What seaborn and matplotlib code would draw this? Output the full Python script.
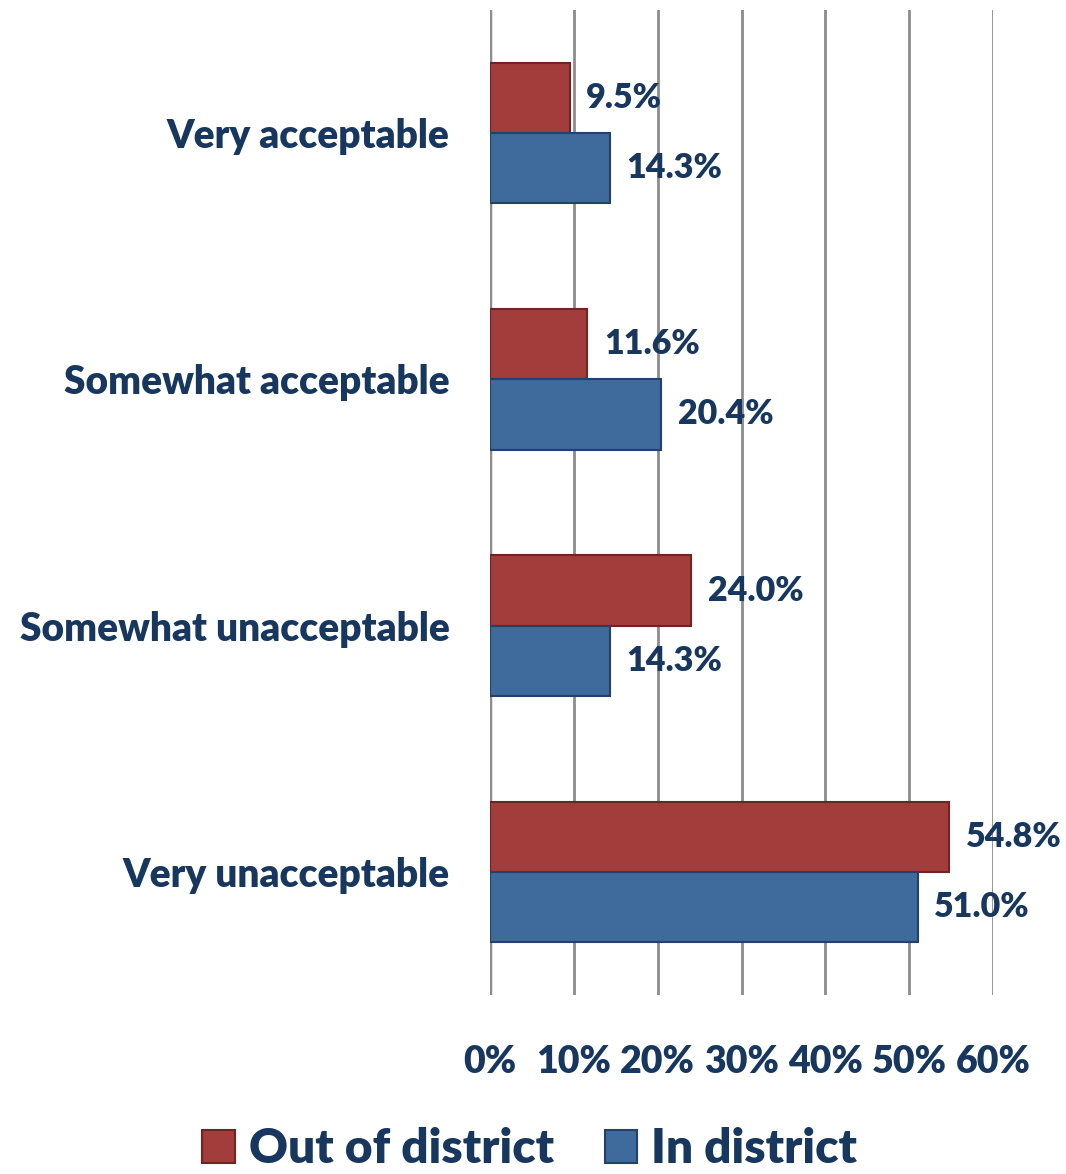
import matplotlib
matplotlib.use("Agg")
import matplotlib.pyplot as plt
import seaborn as sns
import pandas as pd
from matplotlib.patches import Patch

categories = ["Very acceptable", "Somewhat acceptable", "Somewhat unacceptable", "Very unacceptable"]
series_names = ["Out of district", "In district"]
out_of_district = [9.5, 11.6, 24.0, 54.8]
in_district = [14.3, 20.4, 14.3, 51.0]
x_ticks = [0, 10, 20, 30, 40, 50, 60]
x_tick_labels = ["0%", "10%", "20%", "30%", "40%", "50%", "60%"]

colors = {"Out of district": "#A23D3B", "In district": "#3E6A9C"}
edges = {"Out of district": "#6E2422", "In district": "#24416A"}
navy = "#17375E"
W = "heavy"

df = pd.DataFrame({
    "category": categories * 2,
    "series": [series_names[0]] * 4 + [series_names[1]] * 4,
    "value": out_of_district + in_district,
})

sns.set_style("white")
plt.rcParams["font.family"] = ["Lato", "DejaVu Sans"]

fig = plt.figure(figsize=(10.66, 11.74), dpi=100)
ax = fig.add_axes([0.4597, 0.1525, 0.4718, 0.839])

sns.barplot(data=df, y="category", x="value", hue="series", order=categories,
            hue_order=series_names, palette=colors, orient="h", width=0.57,
            ax=ax, legend=False, saturation=1)

for patch_container, name in zip(ax.containers, series_names):
    for p in patch_container:
        p.set_edgecolor(edges[name])
        p.set_linewidth(1.5)
    vals = out_of_district if name == series_names[0] else in_district
    labels = [f"{v:.1f}%" for v in vals]
    ax.bar_label(patch_container, labels=labels, padding=12, color=navy,
                 fontsize=24.5, fontweight=W)

ax.set_xlim(0, 60)
ax.set_ylim(3.5, -0.5)
ax.set_xticks(x_ticks)
ax.set_xticklabels(x_tick_labels)
ax.grid(axis="x", color="#8C8C8C", linewidth=2)
ax.set_axisbelow(True)
for s in ["top", "right", "bottom", "left"]:
    ax.spines[s].set_visible(False)
ax.axvline(0, color="#8C8C8C", linewidth=2.5, zorder=0)
ax.tick_params(axis="x", length=0, pad=36, labelsize=27, labelcolor=navy)
ax.tick_params(axis="y", length=0, pad=29, labelsize=28, labelcolor=navy)
for t in ax.get_xticklabels() + ax.get_yticklabels():
    t.set_fontweight(W)
ax.set_xlabel("")
ax.set_ylabel("")

handles = [Patch(facecolor=colors[n], edgecolor=edges[n], linewidth=1.5) for n in series_names]
leg = fig.legend(handles, series_names, loc="center", bbox_to_anchor=(0.497, 0.021),
                 ncol=2, frameon=False, fontsize=34.5, handlelength=0.68, handleheight=0.68,
                 handletextpad=0.3, columnspacing=1.05, labelcolor=navy)
for t in leg.get_texts():
    t.set_fontweight(W)

fig.savefig("out.png", dpi=100)
